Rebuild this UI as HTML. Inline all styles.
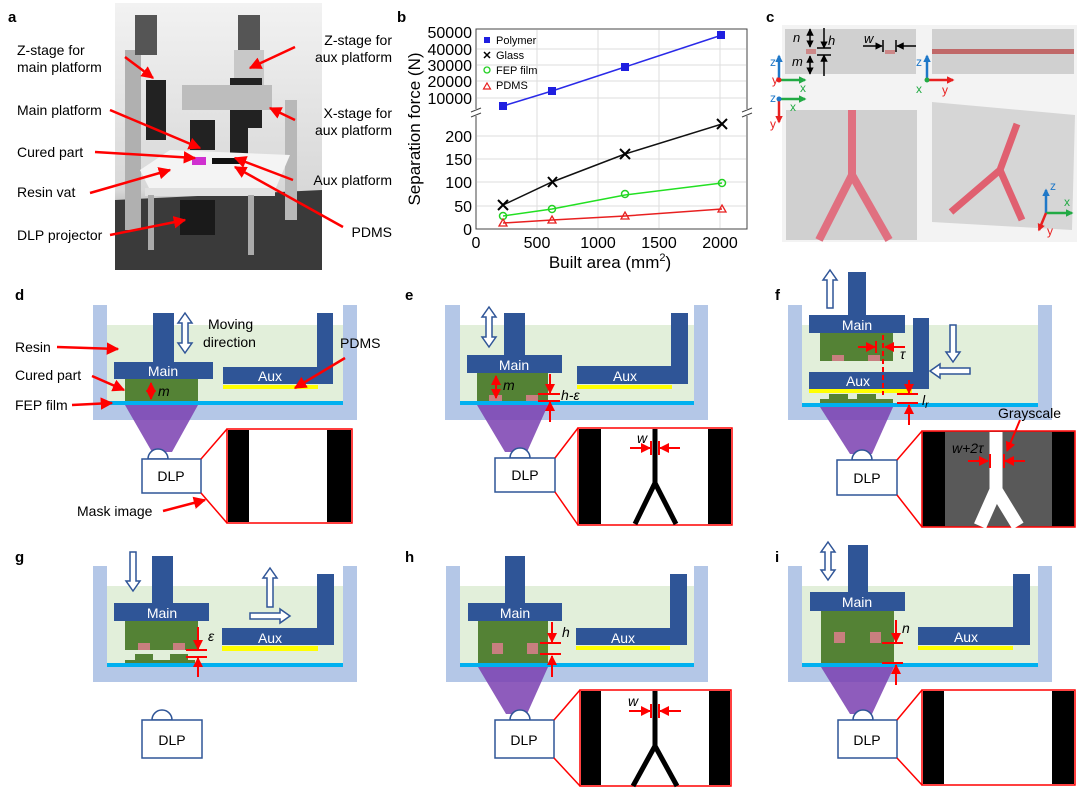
<!DOCTYPE html>
<html><head><meta charset="utf-8"><style>
html,body{margin:0;padding:0;background:#fff}
svg{display:block}
text{font-family:"Liberation Sans",Arial,sans-serif}
</style></head><body>
<svg width="1080" height="788" viewBox="0 0 1080 788" xmlns="http://www.w3.org/2000/svg">
<defs>
<marker id="ra" viewBox="0 0 10 10" refX="9" refY="5" markerWidth="5" markerHeight="5" orient="auto-start-reverse"><path d="M0,0L10,5L0,10z" fill="#f00"/></marker>
<marker id="ka" viewBox="0 0 10 10" refX="9" refY="5" markerWidth="5" markerHeight="5" orient="auto-start-reverse"><path d="M0,0L10,5L0,10z" fill="#000"/></marker>
<marker id="ba" viewBox="0 0 10 10" refX="8" refY="5" markerWidth="3" markerHeight="3" orient="auto"><path d="M0,0L10,5L0,10z" fill="#1f78c8"/></marker>
<marker id="ga" viewBox="0 0 10 10" refX="8" refY="5" markerWidth="3" markerHeight="3" orient="auto"><path d="M0,0L10,5L0,10z" fill="#22aa44"/></marker>
<marker id="rr" viewBox="0 0 10 10" refX="8" refY="5" markerWidth="3" markerHeight="3" orient="auto"><path d="M0,0L10,5L0,10z" fill="#e82020"/></marker>
<linearGradient id="bg" x1="0" y1="0" x2="0" y2="1"><stop offset="0" stop-color="#f2f2f2"/><stop offset="0.7" stop-color="#d8d8d8"/><stop offset="1" stop-color="#555"/></linearGradient>
</defs>

<!-- ===== Panel a ===== -->
<g font-size="14" fill="#000">
<text x="8" y="22" font-weight="bold" font-size="15">a</text>
<rect x="115" y="3" width="207" height="267" fill="url(#bg)"/>
<polygon points="115,200 322,190 322,270 115,270" fill="#3a3a3a"/>
<rect x="125" y="50" width="16" height="180" fill="#b0b0b0"/>
<rect x="135" y="15" width="22" height="40" fill="#555"/>
<rect x="146" y="80" width="20" height="60" fill="#222"/>
<rect x="285" y="100" width="12" height="120" fill="#b8b8b8"/>
<rect x="238" y="15" width="22" height="40" fill="#555"/>
<rect x="234" y="50" width="30" height="40" fill="#c8c8c8"/>
<rect x="230" y="78" width="32" height="50" fill="#222"/>
<rect x="182" y="85" width="90" height="25" fill="#bdbdbd"/>
<rect x="190" y="120" width="25" height="30" fill="#222"/>
<rect x="230" y="118" width="18" height="40" fill="#222"/>
<polygon points="140,170 170,150 290,155 275,190 150,190" fill="#f4f4f4"/>
<rect x="145" y="188" width="130" height="8" fill="#e0e0e0"/>
<rect x="192" y="157" width="14" height="8" fill="#d030d0"/>
<rect x="212" y="158" width="30" height="6" fill="#111"/>
<rect x="180" y="200" width="35" height="35" fill="#1a1a1a"/>
<rect x="148" y="195" width="6" height="55" fill="#aaa"/>
<rect x="248" y="195" width="6" height="60" fill="#aaa"/>
<text x="17" y="55">Z-stage for</text><text x="17" y="72">main platform</text>
<text x="17" y="115">Main platform</text>
<text x="17" y="157">Cured part</text>
<text x="17" y="197">Resin vat</text>
<text x="17" y="240">DLP projector</text>
<g text-anchor="end"><text x="392" y="45">Z-stage for</text><text x="392" y="62">aux platform</text>
<text x="392" y="118">X-stage for</text><text x="392" y="135">aux platform</text>
<text x="392" y="185">Aux platform</text>
<text x="392" y="237">PDMS</text></g>
<g stroke="#f00" stroke-width="2.5" marker-end="url(#ra)">
<line x1="125" y1="57" x2="153" y2="78"/><line x1="110" y1="110" x2="200" y2="148"/>
<line x1="95" y1="152" x2="195" y2="158"/><line x1="90" y1="193" x2="170" y2="170"/>
<line x1="110" y1="235" x2="185" y2="220"/><line x1="295" y1="47" x2="250" y2="68"/>
<line x1="295" y1="120" x2="270" y2="108"/><line x1="293" y1="180" x2="235" y2="158"/>
<line x1="343" y1="227" x2="235" y2="167"/></g>
</g>

<!-- ===== Panel b ===== -->
<g>
<text x="397" y="22" font-weight="bold" font-size="15">b</text>
<rect x="476" y="29" width="271" height="200" fill="#fff" stroke="#444" stroke-width="1"/>
<g stroke="#ddd" stroke-width="1">
<line x1="537" y1="30" x2="537" y2="228"/><line x1="598" y1="30" x2="598" y2="228"/><line x1="659" y1="30" x2="659" y2="228"/><line x1="720" y1="30" x2="720" y2="228"/>
<line x1="477" y1="206" x2="746" y2="206"/><line x1="477" y1="182" x2="746" y2="182"/><line x1="477" y1="159" x2="746" y2="159"/><line x1="477" y1="136" x2="746" y2="136"/>
<line x1="477" y1="98" x2="746" y2="98"/><line x1="477" y1="81" x2="746" y2="81"/><line x1="477" y1="65" x2="746" y2="65"/><line x1="477" y1="49" x2="746" y2="49"/>
</g>
<rect x="470" y="109" width="12" height="7" fill="#fff"/><rect x="741" y="109" width="12" height="7" fill="#fff"/>
<g stroke="#444" stroke-width="1"><line x1="471" y1="112" x2="481" y2="108"/><line x1="471" y1="117" x2="481" y2="113"/><line x1="742" y1="112" x2="752" y2="108"/><line x1="742" y1="117" x2="752" y2="113"/></g>
<g font-size="16" text-anchor="end" fill="#000">
<text x="472" y="38">50000</text><text x="472" y="55">40000</text><text x="472" y="71">30000</text><text x="472" y="87">20000</text><text x="472" y="104">10000</text>
<text x="472" y="142">200</text><text x="472" y="165">150</text><text x="472" y="188">100</text><text x="472" y="212">50</text><text x="472" y="235">0</text></g>
<g font-size="16" text-anchor="middle"><text x="476" y="248">0</text><text x="537" y="248">500</text><text x="598" y="248">1000</text><text x="659" y="248">1500</text><text x="720" y="248">2000</text></g>
<text x="610" y="268" font-size="17" text-anchor="middle">Built area (mm<tspan font-size="11" dy="-7">2</tspan><tspan dy="7">)</tspan></text>
<text transform="translate(420,129) rotate(-90)" font-size="17" text-anchor="middle">Separation force (N)</text>
<polyline points="503,106 552,91 625,67 722,35" fill="none" stroke="#2a2ae8" stroke-width="1.5"/>
<g fill="#1f1fe0"><rect x="499" y="102" width="8" height="8"/><rect x="548" y="87" width="8" height="8"/><rect x="621" y="63" width="8" height="8"/><rect x="717" y="31" width="8" height="8"/></g>
<polyline points="503,205 552,182 625,154 722,124" fill="none" stroke="#111" stroke-width="1.5"/>
<g stroke="#000" stroke-width="2"><path d="M498,200l10,10M508,200l-10,10M548,177l9,10M557,177l-9,10M620,149l10,10M630,149l-10,10M717,119l10,10M727,119l-10,10"/></g>
<polyline points="503,216 552,209 625,195 722,183" fill="none" stroke="#22e022" stroke-width="1.5"/>
<g fill="none" stroke="#22d022" stroke-width="1.5"><circle cx="503" cy="216" r="3.5"/><circle cx="552" cy="209" r="3.5"/><circle cx="625" cy="194" r="3.5"/><circle cx="722" cy="183" r="3.5"/></g>
<polyline points="503,223 552,220 625,216 722,209" fill="none" stroke="#e82020" stroke-width="1.5"/>
<g fill="none" stroke="#e82020" stroke-width="1.3"><path d="M503,219l4,7h-8z M552,216l4,7h-8z M625,212l4,7h-8z M722,205l4,7h-8z"/></g>
<g font-size="11">
<rect x="484" y="37" width="6" height="6" fill="#1f1fe0"/><text x="496" y="44">Polymer</text>
<path d="M484,52l6,6M490,52l-6,6" stroke="#000" stroke-width="1.5"/><text x="496" y="59">Glass</text>
<circle cx="487" cy="70" r="3" fill="none" stroke="#22d022" stroke-width="1.3"/><text x="496" y="74">FEP film</text>
<path d="M487,83l3.5,6h-7z" fill="none" stroke="#e82020" stroke-width="1.2"/><text x="496" y="89">PDMS</text></g>
</g>

<!-- ===== Panel c ===== -->
<g>
<text x="766" y="22" font-weight="bold" font-size="15">c</text>
<rect x="782" y="25" width="295" height="217" fill="#f3f3f3"/>
<rect x="785" y="29" width="131" height="45" fill="#d0d0d0"/>
<rect x="932" y="29" width="142" height="45" fill="#d0d0d0"/>
<rect x="932" y="49" width="142" height="5" fill="#c06868"/>
<rect x="806" y="49" width="10" height="5" fill="#c88"/><rect x="885" y="50" width="10" height="4" fill="#c88"/>
<rect x="786" y="110" width="131" height="130" fill="#d0d0d0"/>
<polyline points="852,110 852,175 819,240" fill="none" stroke="#e07080" stroke-width="8"/>
<line x1="852" y1="175" x2="889" y2="240" stroke="#e07080" stroke-width="8"/>
<polygon points="932,102 1075,115 1072,230 932,222" fill="#d6d6d6"/>
<polyline points="1017,124 1000,170 951,212" fill="none" stroke="#e06070" stroke-width="7"/>
<line x1="1000" y1="170" x2="1022" y2="220" stroke="#e06070" stroke-width="7"/>
<g stroke="#000" stroke-width="1.5">
<line x1="810" y1="29" x2="810" y2="47" marker-start="url(#ka)" marker-end="url(#ka)"/>
<line x1="810" y1="56" x2="810" y2="74" marker-start="url(#ka)" marker-end="url(#ka)"/>
<line x1="824" y1="28" x2="824" y2="48" marker-end="url(#ka)"/><line x1="824" y1="76" x2="824" y2="55" marker-end="url(#ka)"/>
<line x1="817" y1="48" x2="831" y2="48"/><line x1="817" y1="55" x2="831" y2="55"/>
<line x1="863" y1="46" x2="882" y2="46" marker-end="url(#ka)"/><line x1="916" y1="46" x2="897" y2="46" marker-end="url(#ka)"/>
<line x1="883" y1="40" x2="883" y2="52"/><line x1="896" y1="40" x2="896" y2="52"/></g>
<g font-size="13" font-style="italic"><text x="793" y="42">n</text><text x="828" y="45">h</text><text x="792" y="66">m</text><text x="864" y="43">w</text></g>
<g stroke-width="2.5">
<line x1="779" y1="80" x2="779" y2="56" stroke="#1f78c8" marker-end="url(#ba)"/>
<line x1="779" y1="80" x2="805" y2="80" stroke="#22aa44" marker-end="url(#ga)"/>
<line x1="779" y1="99" x2="805" y2="99" stroke="#22aa44" marker-end="url(#ga)"/>
<line x1="779" y1="99" x2="779" y2="122" stroke="#e82020" marker-end="url(#rr)"/>
<line x1="927" y1="80" x2="927" y2="56" stroke="#1f78c8" marker-end="url(#ba)"/>
<line x1="927" y1="80" x2="953" y2="80" stroke="#e82020" marker-end="url(#rr)"/>
<line x1="1046" y1="213" x2="1046" y2="190" stroke="#1f78c8" marker-end="url(#ba)"/>
<line x1="1046" y1="213" x2="1072" y2="213" stroke="#22aa44" marker-end="url(#ga)"/>
<line x1="1046" y1="213" x2="1039" y2="230" stroke="#e82020" marker-end="url(#rr)"/>
</g>
<g font-size="12"><text x="770" y="66" fill="#1f78c8">z</text><text x="772" y="84" fill="#e82020">y</text><text x="800" y="92" fill="#22aa44">x</text>
<text x="770" y="102" fill="#1f78c8">z</text><text x="790" y="111" fill="#22aa44">x</text><text x="770" y="128" fill="#e82020">y</text>
<text x="916" y="66" fill="#1f78c8">z</text><text x="916" y="93" fill="#22aa44">x</text><text x="942" y="94" fill="#e82020">y</text>
<text x="1050" y="190" fill="#1f78c8">z</text><text x="1064" y="206" fill="#22aa44">x</text><text x="1047" y="235" fill="#e82020">y</text></g>
<circle cx="779" cy="80" r="2.5" fill="#e82020"/><circle cx="779" cy="99" r="2.5" fill="#1f78c8"/><circle cx="927" cy="80" r="2.5" fill="#22aa44"/>
</g>

<g font-size="14">
<!-- ===== Panel d ===== -->
<text x="15" y="300" font-weight="bold" font-size="15">d</text>
<rect x="93" y="305" width="264" height="115" fill="#b4c7e7"/>
<rect x="107" y="305" width="236" height="20" fill="#fff"/>
<rect x="107" y="325" width="236" height="76" fill="#e2efda"/>
<rect x="107" y="401" width="236" height="4" fill="#00b0f0"/>
<polygon points="125,405 198,405 172,452 152,452" fill="#7a3fb0" opacity="0.85"/>
<rect x="153" y="313" width="21" height="50" fill="#2f5597"/>
<rect x="114" y="362" width="99" height="17" fill="#2f5597"/>
<text x="163" y="376" fill="#fff" text-anchor="middle">Main</text>
<rect x="125" y="379" width="73" height="22" fill="#548235"/>
<rect x="317" y="313" width="16" height="71" fill="#2f5597"/>
<rect x="223" y="367" width="110" height="17" fill="#2f5597"/>
<text x="270" y="381" fill="#fff" text-anchor="middle">Aux</text>
<rect x="223" y="385" width="95" height="4" fill="#ffff00"/>
<line x1="151" y1="383" x2="151" y2="399" stroke="#f00" stroke-width="2" marker-start="url(#ra)" marker-end="url(#ra)"/>
<text x="158" y="396" font-style="italic">m</text>
<polygon points="185,313 192,323 188,323 188,343 192,343 185,353 178,343 182,343 182,323 178,323" fill="#fff" stroke="#2f5597" stroke-width="1.5"/>
<text x="208" y="329">Moving</text><text x="203" y="347">direction</text>
<text x="15" y="352">Resin</text><text x="15" y="380">Cured part</text><text x="15" y="410">FEP film</text>
<text x="340" y="348">PDMS</text><text x="77" y="516">Mask image</text>
<path d="M148,459a10,10 0 0 1 20,0z" fill="#fff" stroke="#2f5597" stroke-width="1.5"/>
<rect x="142" y="459" width="59" height="34" fill="#fff" stroke="#2f5597" stroke-width="1.5"/>
<text x="171" y="481" text-anchor="middle">DLP</text>
<rect x="227" y="429" width="125" height="94" fill="#fff" stroke="#f00" stroke-width="1.5"/>
<rect x="228" y="430" width="21" height="92" fill="#000"/><rect x="327" y="430" width="24" height="92" fill="#000"/>
<g stroke="#f00" stroke-width="1.5"><line x1="201" y1="459" x2="227" y2="429"/><line x1="201" y1="493" x2="227" y2="523"/></g>
<g stroke="#f00" stroke-width="2.5" marker-end="url(#ra)"><line x1="57" y1="347" x2="118" y2="349"/><line x1="92" y1="376" x2="124" y2="390"/><line x1="72" y1="405" x2="112" y2="403"/><line x1="345" y1="358" x2="295" y2="388"/><line x1="163" y1="511" x2="205" y2="500"/></g>

<!-- ===== Panel e ===== -->
<text x="405" y="300" font-weight="bold" font-size="15">e</text>
<rect x="445" y="305" width="263" height="115" fill="#b4c7e7"/>
<rect x="460" y="305" width="234" height="20" fill="#fff"/>
<rect x="460" y="325" width="234" height="76" fill="#e2efda"/>
<rect x="460" y="401" width="234" height="4" fill="#00b0f0"/>
<polygon points="477,405 548,405 527,452 505,452" fill="#7a3fb0" opacity="0.85"/>
<rect x="504" y="313" width="21" height="43" fill="#2f5597"/>
<rect x="467" y="355" width="95" height="18" fill="#2f5597"/>
<text x="514" y="370" fill="#fff" text-anchor="middle">Main</text>
<rect x="477" y="373" width="71" height="28" fill="#548235"/>
<rect x="489" y="395" width="13" height="6" fill="#c87f7f"/><rect x="526" y="395" width="12" height="6" fill="#c87f7f"/>
<rect x="671" y="313" width="17" height="71" fill="#2f5597"/>
<rect x="577" y="366" width="111" height="18" fill="#2f5597"/>
<text x="625" y="381" fill="#fff" text-anchor="middle">Aux</text>
<rect x="577" y="385" width="95" height="4" fill="#ffff00"/>
<polygon points="489,307 496,317 492,317 492,337 496,337 489,347 482,337 486,337 486,317 482,317" fill="#fff" stroke="#2f5597" stroke-width="1.5"/>
<line x1="496" y1="376" x2="496" y2="398" stroke="#f00" stroke-width="2" marker-start="url(#ra)" marker-end="url(#ra)"/>
<text x="503" y="390" font-style="italic">m</text>
<g stroke="#f00" stroke-width="2"><line x1="550" y1="374" x2="550" y2="393" marker-end="url(#ra)"/><line x1="550" y1="422" x2="550" y2="402" marker-end="url(#ra)"/><line x1="538" y1="394" x2="560" y2="394"/><line x1="538" y1="401" x2="560" y2="401"/></g>
<text x="561" y="400" font-style="italic">h-ε</text>
<path d="M510,458a10,10 0 0 1 20,0z" fill="#fff" stroke="#2f5597" stroke-width="1.5"/>
<rect x="495" y="458" width="60" height="34" fill="#fff" stroke="#2f5597" stroke-width="1.5"/>
<text x="525" y="480" text-anchor="middle">DLP</text>
<rect x="578" y="428" width="154" height="97" fill="#fff" stroke="#f00" stroke-width="1.5"/>
<rect x="579" y="429" width="22" height="95" fill="#000"/><rect x="708" y="429" width="23" height="95" fill="#000"/>
<polyline points="655,429 655,483 635,524" fill="none" stroke="#000" stroke-width="5"/><line x1="655" y1="483" x2="676" y2="524" stroke="#000" stroke-width="5"/>
<g stroke="#f00" stroke-width="1.5"><line x1="555" y1="458" x2="578" y2="428"/><line x1="555" y1="492" x2="578" y2="525"/></g>
<g stroke="#f00" stroke-width="2"><line x1="630" y1="448" x2="650" y2="448" marker-end="url(#ra)"/><line x1="680" y1="448" x2="660" y2="448" marker-end="url(#ra)"/><line x1="651" y1="441" x2="651" y2="455"/><line x1="659" y1="441" x2="659" y2="455"/></g>
<text x="637" y="443" font-style="italic">w</text>

<!-- ===== Panel f ===== -->
<text x="775" y="300" font-weight="bold" font-size="15">f</text>
<rect x="788" y="305" width="264" height="115" fill="#b4c7e7"/>
<rect x="802" y="305" width="236" height="20" fill="#fff"/>
<rect x="802" y="325" width="236" height="78" fill="#e2efda"/>
<rect x="802" y="403" width="236" height="4" fill="#00b0f0"/>
<polygon points="820,407 893,407 872,454 850,454" fill="#7a3fb0" opacity="0.85"/>
<rect x="848" y="272" width="18" height="43" fill="#2f5597"/>
<rect x="809" y="315" width="96" height="18" fill="#2f5597"/>
<text x="857" y="330" fill="#fff" text-anchor="middle">Main</text>
<rect x="820" y="333" width="73" height="28" fill="#548235"/>
<rect x="832" y="355" width="12" height="6" fill="#c87f7f"/><rect x="868" y="355" width="12" height="6" fill="#c87f7f"/>
<rect x="913" y="318" width="16" height="71" fill="#2f5597"/>
<rect x="809" y="372" width="120" height="17" fill="#2f5597"/>
<text x="858" y="386" fill="#fff" text-anchor="middle">Aux</text>
<rect x="809" y="389" width="103" height="4" fill="#ffff00"/>
<rect x="820" y="399" width="73" height="4" fill="#548235"/>
<rect x="829" y="394" width="19" height="5" fill="#548235"/><rect x="857" y="394" width="19" height="5" fill="#548235"/>
<polygon points="830,270 837,280 833,280 833,308 827,308 827,280 823,280" fill="#fff" stroke="#2f5597" stroke-width="1.5"/>
<polygon points="953,362 960,352 956,352 956,325 950,325 950,352 946,352" fill="#fff" stroke="#2f5597" stroke-width="1.5"/>
<polygon points="930,371 940,364 940,368 970,368 970,374 940,374 940,378" fill="#fff" stroke="#2f5597" stroke-width="1.5"/>
<line x1="883" y1="335" x2="883" y2="395" stroke="#f00" stroke-width="2" stroke-dasharray="5,3"/>
<g stroke="#f00" stroke-width="2"><line x1="858" y1="347" x2="875" y2="347" marker-end="url(#ra)"/><line x1="905" y1="347" x2="885" y2="347" marker-end="url(#ra)"/><line x1="876" y1="341" x2="876" y2="353"/>
<line x1="909" y1="380" x2="909" y2="393" marker-end="url(#ra)"/><line x1="909" y1="425" x2="909" y2="405" marker-end="url(#ra)"/><line x1="897" y1="394" x2="918" y2="394"/><line x1="897" y1="403" x2="918" y2="403"/></g>
<text x="900" y="359" font-style="italic">τ</text>
<text x="922" y="405" font-style="italic">l<tspan font-size="10" dy="3">r</tspan></text>
<path d="M852,460a10,10 0 0 1 20,0z" fill="#fff" stroke="#2f5597" stroke-width="1.5"/>
<rect x="837" y="460" width="60" height="35" fill="#fff" stroke="#2f5597" stroke-width="1.5"/>
<text x="867" y="483" text-anchor="middle">DLP</text>
<rect x="922" y="431" width="153" height="96" fill="#595959" stroke="#f00" stroke-width="1.5"/>
<rect x="923" y="432" width="22" height="94" fill="#000"/><rect x="1052" y="432" width="22" height="94" fill="#000"/>
<polyline points="996,432 996,490 980,526" fill="none" stroke="#fff" stroke-width="13"/><line x1="996" y1="490" x2="1018" y2="526" stroke="#fff" stroke-width="13"/>
<g stroke="#f00" stroke-width="1.5"><line x1="897" y1="460" x2="922" y2="431"/><line x1="897" y1="495" x2="922" y2="527"/></g>
<g stroke="#f00" stroke-width="2"><line x1="968" y1="461" x2="988" y2="461" marker-end="url(#ra)"/><line x1="1025" y1="461" x2="1005" y2="461" marker-end="url(#ra)"/><line x1="990" y1="454" x2="990" y2="468"/><line x1="1004" y1="454" x2="1004" y2="468"/><line x1="1020" y1="420" x2="1007" y2="451" marker-end="url(#ra)"/></g>
<text x="952" y="453" font-style="italic" fill="#000">w+2τ</text>
<text x="998" y="418">Grayscale</text>

<!-- ===== Panel g ===== -->
<text x="15" y="562" font-weight="bold" font-size="15">g</text>
<rect x="93" y="566" width="264" height="116" fill="#b4c7e7"/>
<rect x="107" y="566" width="236" height="20" fill="#fff"/>
<rect x="107" y="586" width="236" height="77" fill="#e2efda"/>
<rect x="107" y="663" width="236" height="4" fill="#00b0f0"/>
<rect x="152" y="556" width="21" height="48" fill="#2f5597"/>
<rect x="114" y="603" width="95" height="18" fill="#2f5597"/>
<text x="162" y="618" fill="#fff" text-anchor="middle">Main</text>
<rect x="125" y="621" width="73" height="29" fill="#548235"/>
<rect x="138" y="643" width="12" height="7" fill="#c87f7f"/><rect x="173" y="643" width="12" height="7" fill="#c87f7f"/>
<rect x="125" y="660" width="70" height="3" fill="#548235"/>
<rect x="135" y="654" width="18" height="6" fill="#548235"/><rect x="170" y="654" width="18" height="6" fill="#548235"/>
<rect x="317" y="574" width="17" height="71" fill="#2f5597"/>
<rect x="222" y="628" width="112" height="17" fill="#2f5597"/>
<text x="270" y="643" fill="#fff" text-anchor="middle">Aux</text>
<rect x="222" y="646" width="96" height="5" fill="#ffff00"/>
<polygon points="133,591 140,581 136,581 136,552 130,552 130,581 126,581" fill="#fff" stroke="#2f5597" stroke-width="1.5"/>
<polygon points="270,568 277,578 273,578 273,607 267,607 267,578 263,578" fill="#fff" stroke="#2f5597" stroke-width="1.5"/>
<polygon points="290,616 280,609 280,613 250,613 250,619 280,619 280,623" fill="#fff" stroke="#2f5597" stroke-width="1.5"/>
<g stroke="#f00" stroke-width="2"><line x1="198" y1="627" x2="198" y2="649" marker-end="url(#ra)"/><line x1="198" y1="677" x2="198" y2="658" marker-end="url(#ra)"/><line x1="186" y1="650" x2="207" y2="650"/><line x1="186" y1="657" x2="207" y2="657"/></g>
<text x="208" y="641" font-style="italic">ε</text>
<path d="M152,720a10,10 0 0 1 20,0z" fill="#fff" stroke="#2f5597" stroke-width="1.5"/>
<rect x="142" y="720" width="60" height="38" fill="#fff" stroke="#2f5597" stroke-width="1.5"/>
<text x="172" y="745" text-anchor="middle">DLP</text>

<!-- ===== Panel h ===== -->
<text x="405" y="562" font-weight="bold" font-size="15">h</text>
<rect x="446" y="566" width="262" height="116" fill="#b4c7e7"/>
<rect x="460" y="566" width="234" height="20" fill="#fff"/>
<rect x="460" y="586" width="234" height="77" fill="#e2efda"/>
<rect x="460" y="663" width="234" height="4" fill="#00b0f0"/>
<polygon points="478,667 548,667 527,714 506,714" fill="#7a3fb0" opacity="0.85"/>
<rect x="505" y="556" width="20" height="48" fill="#2f5597"/>
<rect x="468" y="603" width="94" height="18" fill="#2f5597"/>
<text x="515" y="618" fill="#fff" text-anchor="middle">Main</text>
<rect x="478" y="621" width="70" height="42" fill="#548235"/>
<rect x="492" y="643" width="11" height="11" fill="#c87f7f"/><rect x="527" y="643" width="11" height="11" fill="#c87f7f"/>
<rect x="670" y="574" width="17" height="71" fill="#2f5597"/>
<rect x="576" y="628" width="111" height="17" fill="#2f5597"/>
<text x="623" y="643" fill="#fff" text-anchor="middle">Aux</text>
<rect x="576" y="646" width="94" height="4" fill="#ffff00"/>
<g stroke="#f00" stroke-width="2"><line x1="552" y1="622" x2="552" y2="642" marker-end="url(#ra)"/><line x1="552" y1="677" x2="552" y2="656" marker-end="url(#ra)"/><line x1="540" y1="643" x2="561" y2="643"/><line x1="540" y1="654" x2="561" y2="654"/></g>
<text x="562" y="637" font-style="italic">h</text>
<path d="M510,720a10,10 0 0 1 20,0z" fill="#fff" stroke="#2f5597" stroke-width="1.5"/>
<rect x="495" y="720" width="59" height="38" fill="#fff" stroke="#2f5597" stroke-width="1.5"/>
<text x="524" y="745" text-anchor="middle">DLP</text>
<rect x="580" y="690" width="151" height="96" fill="#fff" stroke="#f00" stroke-width="1.5"/>
<rect x="581" y="691" width="20" height="94" fill="#000"/><rect x="709" y="691" width="21" height="94" fill="#000"/>
<polyline points="655,691 655,746 633,786" fill="none" stroke="#000" stroke-width="5"/><line x1="655" y1="746" x2="677" y2="786" stroke="#000" stroke-width="5"/>
<g stroke="#f00" stroke-width="1.5"><line x1="554" y1="720" x2="580" y2="690"/><line x1="554" y1="758" x2="580" y2="786"/></g>
<g stroke="#f00" stroke-width="2"><line x1="629" y1="711" x2="650" y2="711" marker-end="url(#ra)"/><line x1="681" y1="711" x2="660" y2="711" marker-end="url(#ra)"/><line x1="651" y1="704" x2="651" y2="718"/><line x1="659" y1="704" x2="659" y2="718"/></g>
<text x="628" y="706" font-style="italic">w</text>

<!-- ===== Panel i ===== -->
<text x="775" y="562" font-weight="bold" font-size="15">i</text>
<rect x="788" y="566" width="264" height="116" fill="#b4c7e7"/>
<rect x="802" y="566" width="236" height="20" fill="#fff"/>
<rect x="802" y="586" width="236" height="77" fill="#e2efda"/>
<rect x="802" y="663" width="236" height="4" fill="#00b0f0"/>
<polygon points="821,667 894,667 872,714 850,714" fill="#7a3fb0" opacity="0.85"/>
<rect x="848" y="545" width="20" height="48" fill="#2f5597"/>
<rect x="810" y="592" width="95" height="19" fill="#2f5597"/>
<text x="857" y="607" fill="#fff" text-anchor="middle">Main</text>
<rect x="821" y="611" width="73" height="52" fill="#548235"/>
<rect x="834" y="632" width="11" height="11" fill="#c87f7f"/><rect x="870" y="632" width="11" height="11" fill="#c87f7f"/>
<rect x="1013" y="574" width="17" height="71" fill="#2f5597"/>
<rect x="918" y="627" width="112" height="18" fill="#2f5597"/>
<text x="966" y="642" fill="#fff" text-anchor="middle">Aux</text>
<rect x="918" y="646" width="95" height="4" fill="#ffff00"/>
<polygon points="828,542 835,552 831,552 831,570 835,570 828,580 821,570 825,570 825,552 821,552" fill="#fff" stroke="#2f5597" stroke-width="1.5"/>
<g stroke="#f00" stroke-width="2"><line x1="896" y1="620" x2="896" y2="642" marker-end="url(#ra)"/><line x1="896" y1="685" x2="896" y2="665" marker-end="url(#ra)"/><line x1="882" y1="643" x2="903" y2="643"/><line x1="882" y1="663" x2="903" y2="663"/></g>
<text x="902" y="633" font-style="italic">n</text>
<path d="M853,720a10,10 0 0 1 20,0z" fill="#fff" stroke="#2f5597" stroke-width="1.5"/>
<rect x="838" y="720" width="59" height="38" fill="#fff" stroke="#2f5597" stroke-width="1.5"/>
<text x="867" y="745" text-anchor="middle">DLP</text>
<rect x="922" y="690" width="153" height="95" fill="#fff" stroke="#f00" stroke-width="1.5"/>
<rect x="923" y="691" width="21" height="93" fill="#000"/><rect x="1052" y="691" width="22" height="93" fill="#000"/>
<g stroke="#f00" stroke-width="1.5"><line x1="897" y1="720" x2="922" y2="690"/><line x1="897" y1="758" x2="922" y2="785"/></g>
</g>
</svg>
</body></html>
